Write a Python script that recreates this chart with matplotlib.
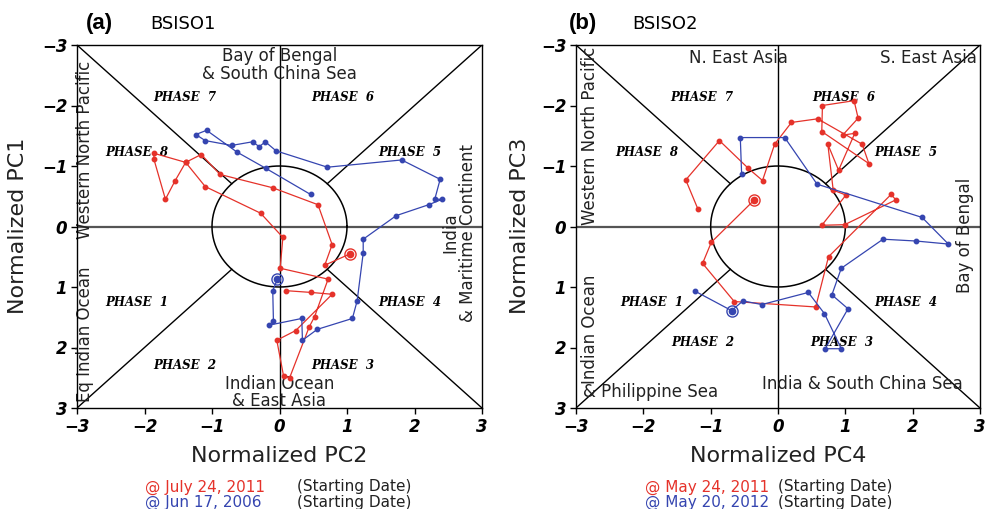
import numpy as np
import matplotlib
matplotlib.use("Agg")
import matplotlib.pyplot as plt

# ---------------- data ----------------
# Panel (a): BSISO1 (x = PC2, y = PC1)
a_red_x = [1.05, 0.67, 0.78, 0.57, -0.10, -0.88, -1.16, -1.39, -1.55, -1.69, -1.86, -1.86, -1.39,
           -1.10, -0.28, 0.05, 0.01, 0.72, 0.52, 0.44, 0.15, 0.06, -0.04, 0.24, 0.78, 0.47, 0.09]
a_red_y = [0.45, 0.64, 0.30, -0.36, -0.64, -0.86, -1.19, -1.06, -0.75, -0.45, -1.11, -1.21, -1.06,
           -0.66, -0.22, 0.18, 0.69, 0.87, 1.49, 1.66, 2.50, 2.47, 1.88, 1.72, 1.12, 1.09, 1.06]
a_blue_x = [-0.03, -0.10, -0.09, -0.15, 0.33, 0.34, 0.56, 1.08, 1.15, 1.24, 1.24, 1.73, 2.21, 2.41,
            2.30, 2.38, 1.81, 0.71, -0.05, -0.21, -0.30, -0.40, -0.71, -1.10, -1.24, -1.08, -0.63,
            -0.20, 0.46]
a_blue_y = [0.87, 1.06, 1.56, 1.63, 1.52, 1.88, 1.70, 1.52, 1.23, 0.44, 0.21, -0.18, -0.36, -0.45,
            -0.45, -0.78, -1.10, -0.98, -1.25, -1.40, -1.32, -1.40, -1.34, -1.42, -1.52, -1.59, -1.23,
            -0.96, -0.53]
a_red_start = 0
a_blue_start = 0

# Panel (b): BSISO2 (x = PC4, y = PC3)
b_red_x = [-0.36, -0.99, -1.12, -0.65, 0.56, 0.75, 1.68, 1.75, 0.99, 0.65, 1.01, 0.82, 0.74, 0.90,
           1.14, 0.96, 1.19, 1.13, 0.66, 0.65, 1.35, 1.25, 0.59, 0.20, -0.05, -0.23, -0.44, -0.87,
           -1.37, -1.19]
b_red_y = [-0.43, 0.26, 0.61, 1.24, 1.33, 0.50, -0.53, -0.44, -0.03, -0.02, -0.52, -0.60, -1.36,
           -0.93, -1.54, -1.51, -1.79, -2.08, -2.00, -1.57, -1.04, -1.36, -1.78, -1.72, -1.36, -0.76,
           -0.96, -1.42, -0.77, -0.29]
b_blue_x = [-1.23, -0.69, -0.52, -0.24, 0.45, 0.69, 0.94, 0.70, 1.04, 0.80, 0.94, 1.56, 2.05, 2.53,
            2.14, 0.58, 0.10, -0.56, -0.54]
b_blue_y = [1.07, 1.39, 1.23, 1.29, 1.09, 1.44, 2.02, 2.02, 1.36, 1.13, 0.69, 0.21, 0.24, 0.29,
            -0.15, -0.70, -1.47, -1.47, -0.86]
b_red_start = 0
b_blue_start = 1

phase_names = ["PHASE 1", "PHASE 2", "PHASE 3", "PHASE 4",
               "PHASE 5", "PHASE 6", "PHASE 7", "PHASE 8"]
a_phase_pos = [(-2.11, 1.25), (-1.40, 2.29), (0.94, 2.29), (1.93, 1.25),
               (1.93, -1.23), (0.94, -2.14), (-1.40, -2.14), (-2.11, -1.23)]
b_phase_pos = [(-1.87, 1.25), (-1.11, 1.91), (0.94, 1.91), (1.90, 1.25),
               (1.90, -1.23), (0.97, -2.14), (-1.13, -2.14), (-1.95, -1.23)]

ticks = [-3, -2, -1, 0, 1, 2, 3]
tick_labels = ["\u22123", "\u22122", "\u22121", "0", "1", "2", "3"]

RED = "#e5322a"
BLUE = "#3545b0"

fig = plt.figure(figsize=(9.85, 5.09), dpi=100)
ax_a = fig.add_axes([77 / 985, 1 - 408 / 509, 405 / 985, 363 / 509])
ax_b = fig.add_axes([576 / 985, 1 - 408 / 509, 404 / 985, 363 / 509])


def frame(ax):
    ax.set_xlim(-3, 3)
    ax.set_ylim(3, -3)
    ax.set_xticks(ticks)
    ax.set_yticks(ticks)
    ax.set_xticklabels(tick_labels)
    ax.set_yticklabels(tick_labels)
    for lab in ax.get_xticklabels() + ax.get_yticklabels():
        lab.set_fontweight("bold")
        lab.set_fontstyle("italic")
        lab.set_fontsize(12)
    ax.tick_params(direction="out", length=4, width=1, pad=3)
    for s in ax.spines.values():
        s.set_linewidth(1.0)
    # reference lines
    ax.plot([-3, 3], [0, 0], color="#555555", lw=1.6, zorder=1)
    ax.plot([0, 0], [-3, 3], color="black", lw=1.0, zorder=1)
    c = 1 / np.sqrt(2)
    for sx in (-1, 1):
        for sy in (-1, 1):
            ax.plot([sx * c, sx * 3], [sy * c, sy * 3], color="black", lw=1.0, zorder=1)
    th = np.linspace(0, 2 * np.pi, 300)
    ax.plot(np.cos(th), np.sin(th), color="black", lw=1.1, zorder=1)


def traj(ax, xs, ys, color, start):
    ax.plot(xs, ys, color=color, lw=0.9, marker="o", ms=3.2, zorder=3)
    ax.plot(xs[start], ys[start], marker="o", ms=8, mfc="none", mec=color, mew=1.0, zorder=4)
    ax.plot(xs[start], ys[start], marker="o", ms=4.5, color=color, zorder=4)


def phases(ax, pos):
    for name, (x, y) in zip(phase_names, pos):
        ax.text(x, y, name.replace(" ", "  "), ha="center", va="center", fontsize=8.5,
                family="DejaVu Serif", fontweight="bold", fontstyle="italic", zorder=2)


reg_kw = dict(fontsize=12, color="#222222", zorder=2)

# ---- panel (a)
frame(ax_a)
traj(ax_a, a_red_x, a_red_y, RED, a_red_start)
traj(ax_a, a_blue_x, a_blue_y, BLUE, a_blue_start)
phases(ax_a, a_phase_pos)
ax_a.text(0, -2.67, "Bay of Bengal\n& South China Sea", ha="center", va="center",
          linespacing=0.95, **reg_kw)
ax_a.text(-2.88, -1.26, "Western North Pacific", rotation=90, ha="center", va="center", **reg_kw)
ax_a.text(-2.88, 1.78, "Eq Indian Ocean", rotation=90, ha="center", va="center", **reg_kw)
ax_a.text(2.66, 0.10, "India\n& Maritime Continent", rotation=90, ha="center", va="center",
          linespacing=1.0, multialignment="center", **reg_kw)
ax_a.text(0, 2.74, "Indian Ocean\n& East Asia", ha="center", va="center",
          linespacing=0.95, **reg_kw)

# ---- panel (b)
frame(ax_b)
traj(ax_b, b_red_x, b_red_y, RED, b_red_start)
traj(ax_b, b_blue_x, b_blue_y, BLUE, b_blue_start)
phases(ax_b, b_phase_pos)
ax_b.text(-0.59, -2.78, "N. East Asia", ha="center", va="center", **reg_kw)
ax_b.text(2.23, -2.78, "S. East Asia", ha="center", va="center", **reg_kw)
ax_b.text(-2.79, -1.50, "Western North Pacific", rotation=90, ha="center", va="center", **reg_kw)
ax_b.text(2.78, 0.14, "Bay of Bengal", rotation=90, ha="center", va="center", **reg_kw)
ax_b.text(-2.79, 1.70, "Indian Ocean", rotation=90, ha="center", va="center", **reg_kw)
ax_b.text(-1.90, 2.73, "& Philippine Sea", ha="center", va="center", **reg_kw)
ax_b.text(1.25, 2.60, "India & South China Sea", ha="center", va="center", **reg_kw)

# ---- titles, axis labels, legends
fig.text(86 / 985, 1 - 29 / 509, "(a)", fontsize=16, fontweight="bold", family="Liberation Sans",
         va="baseline")
fig.text(150 / 985, 1 - 29 / 509, "BSISO1", fontsize=13, va="baseline")
fig.text(569 / 985, 1 - 29 / 509, "(b)", fontsize=16, fontweight="bold", family="Liberation Sans",
         va="baseline")
fig.text(632 / 985, 1 - 29 / 509, "BSISO2", fontsize=13, va="baseline")

lab_kw = dict(fontsize=16, color="#222222")
fig.text(279.5 / 985, 1 - 456 / 509, "Normalized PC2", ha="center", va="center", **lab_kw)
fig.text(18 / 985, 1 - 226 / 509, "Normalized PC1", rotation=90, ha="center", va="center", **lab_kw)
fig.text(778 / 985, 1 - 456 / 509, "Normalized PC4", ha="center", va="center", **lab_kw)
fig.text(520 / 985, 1 - 226 / 509, "Normalized PC3", rotation=90, ha="center", va="center", **lab_kw)

leg_kw = dict(fontsize=11, va="center")
fig.text(145 / 985, 1 - 487 / 509, "@ July 24, 2011", color=RED, **leg_kw)
fig.text(297 / 985, 1 - 487 / 509, "(Starting Date)", color="#222222", **leg_kw)
fig.text(145 / 985, 1 - 502 / 509, "@ Jun 17, 2006", color=BLUE, **leg_kw)
fig.text(297 / 985, 1 - 502 / 509, "(Starting Date)", color="#222222", **leg_kw)
fig.text(645 / 985, 1 - 487 / 509, "@ May 24, 2011", color=RED, **leg_kw)
fig.text(778 / 985, 1 - 487 / 509, "(Starting Date)", color="#222222", **leg_kw)
fig.text(645 / 985, 1 - 502 / 509, "@ May 20, 2012", color=BLUE, **leg_kw)
fig.text(778 / 985, 1 - 502 / 509, "(Starting Date)", color="#222222", **leg_kw)

fig.savefig("out.png", dpi=100)
